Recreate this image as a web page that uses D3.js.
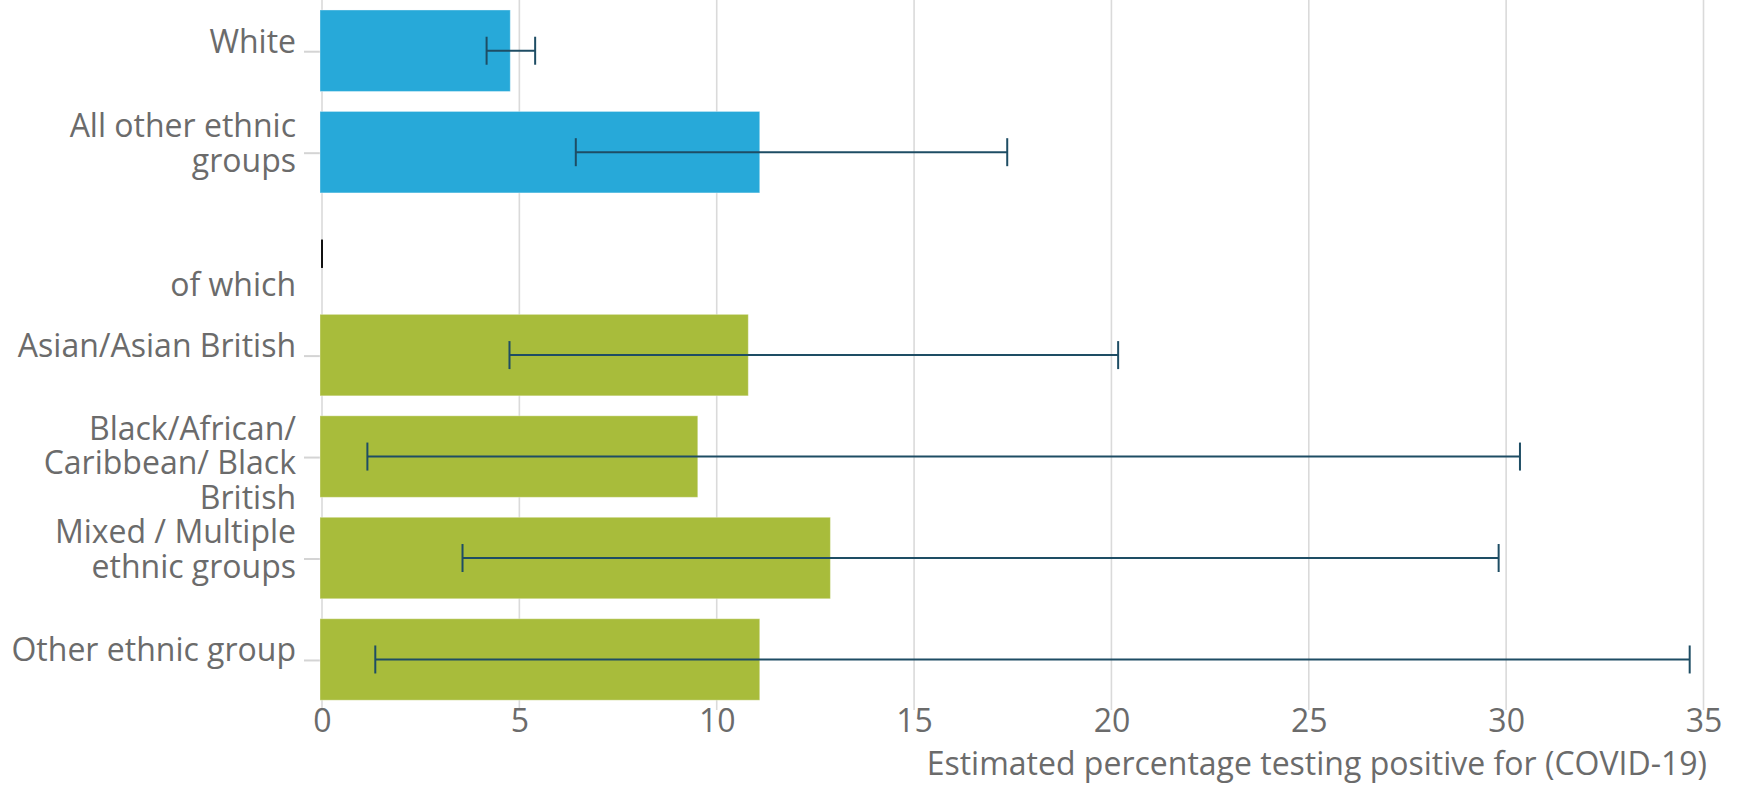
<!DOCTYPE html>
<html>
<head>
<meta charset="utf-8">
<script src="https://cdn.jsdelivr.net/npm/d3@7"></script>
<style>
  html, body { margin: 0; padding: 0; background: #fff; }
  svg { display: block; }
  text { font-family: "Open Sans", sans-serif; fill: #6b6b6b; }
</style>
</head>
<body>
<svg id="chart" width="1741" height="787"></svg>
<script>
// Ethnic groups, each split into the lines its axis label is wrapped over
const categoryLines = [
  ["White"],
  ["All other ethnic", "groups"],
  ["of which"],
  ["Asian/Asian British"],
  ["Black/African/", "Caribbean/ Black", "British"],
  ["Mixed / Multiple", "ethnic groups"],
  ["Other ethnic group"]
];
const categories = categoryLines.map(l => l.join(" "));

// Estimated percentage testing positive, with 95% confidence interval bounds
const estimates = [4.77, 11.09, null, 10.80, 9.52, 12.88, 11.09];
const lowerBounds = [4.17, 6.43, 0, 4.75, 1.15, 3.56, 1.35];
const upperBounds = [5.40, 17.36, 0, 20.17, 30.35, 29.81, 34.65];

// Headline groups in blue, the breakdown of "all other" in green
const groupKind = ["headline", "headline", "subheading", "breakdown", "breakdown", "breakdown", "breakdown"];

const xTicks = [0, 5, 10, 15, 20, 25, 30, 35];
const xTitle = "Estimated percentage testing positive for (COVID-19)";

const colour = { headline: "#27a9d9", breakdown: "#a8bc3b" };
const errorColour = "#1e4d64";

const svg = d3.select("#chart");

const x = d3.scaleLinear().domain([0, 35]).range([322, 1703.5]);
const y = d3.scaleBand()
  .domain(categories)
  .range([0, 710.2])
  .paddingInner(0.197)
  .paddingOuter(0.0985);

// vertical gridlines
svg.append("g")
  .selectAll("line")
  .data(xTicks)
  .join("line")
  .attr("x1", d => x(d)).attr("x2", d => x(d))
  .attr("y1", 0).attr("y2", 710)
  .attr("stroke", "#dadada")
  .attr("stroke-width", 1.6);

// x axis tick labels
const xAxis = d3.axisBottom(x).tickValues(xTicks).tickSize(0).tickPadding(0).tickFormat(d3.format("d"));
const gx = svg.append("g").attr("transform", "translate(0,710)").call(xAxis);
gx.select(".domain").remove();
gx.selectAll("text")
  .attr("dy", null)
  .attr("y", 22)
  .style("font-size", "32px")
  .attr("fill", "#6b6b6b");

// x axis title
svg.append("text")
  .attr("x", 1707)
  .attr("y", 775)
  .attr("text-anchor", "end")
  .style("font-size", "32px")
  .text(xTitle);

// y axis ticks and wrapped category labels
const firstBaseline = { 1: 2, 2: -15, 3: -17 };
const labelLineHeight = 34.5;
const yRows = svg.append("g")
  .selectAll("g")
  .data(categories)
  .join("g")
  .attr("transform", d => `translate(0,${y(d) + y.bandwidth() / 2})`);

yRows.filter((d, i) => groupKind[i] !== "subheading")
  .append("line")
  .attr("x1", 304).attr("x2", 321)
  .attr("y1", 1).attr("y2", 1)
  .attr("stroke", "#d4d4d4")
  .attr("stroke-width", 2);

yRows.each(function (d, i) {
  const lines = categoryLines[i];
  // the "of which" subheading sits below its own row, introducing the breakdown
  const shift = groupKind[i] === "subheading" ? 40 : 0;
  const t = d3.select(this).append("text")
    .attr("text-anchor", "end")
    .style("font-size", "32px");
  lines.forEach((line, j) => {
    t.append("tspan")
      .attr("x", 296)
      .attr("y", firstBaseline[lines.length] + shift + j * labelLineHeight)
      .text(line);
  });
});

// bars
svg.append("g")
  .selectAll("rect")
  .data(categories.map((c, i) => ({ c, v: estimates[i], kind: groupKind[i] })).filter(d => d.v !== null))
  .join("rect")
  .attr("x", x(0) - 2)
  .attr("y", d => y(d.c))
  .attr("width", d => x(d.v) - x(0) + 2)
  .attr("height", y.bandwidth())
  .attr("fill", d => colour[d.kind])
  .attr("stroke", "rgba(255,255,255,0.35)")
  .attr("stroke-width", 1);

// confidence interval whiskers
const capHalf = 14;
const err = svg.append("g")
  .selectAll("g")
  .data(categories.map((c, i) => ({ c, lo: lowerBounds[i], hi: upperBounds[i] })))
  .join("g")
  .attr("transform", d => `translate(0,${y(d.c) + y.bandwidth() / 2})`)
  .attr("stroke", d => d.lo === d.hi ? "#111" : errorColour)
  .attr("stroke-width", 2);

err.append("line")
  .attr("x1", d => x(d.lo)).attr("x2", d => x(d.hi))
  .attr("y1", 0).attr("y2", 0);
err.append("line")
  .attr("x1", d => x(d.lo)).attr("x2", d => x(d.lo))
  .attr("y1", -capHalf).attr("y2", capHalf);
err.append("line")
  .attr("x1", d => x(d.hi)).attr("x2", d => x(d.hi))
  .attr("y1", -capHalf).attr("y2", capHalf);
</script>
</body>
</html>
